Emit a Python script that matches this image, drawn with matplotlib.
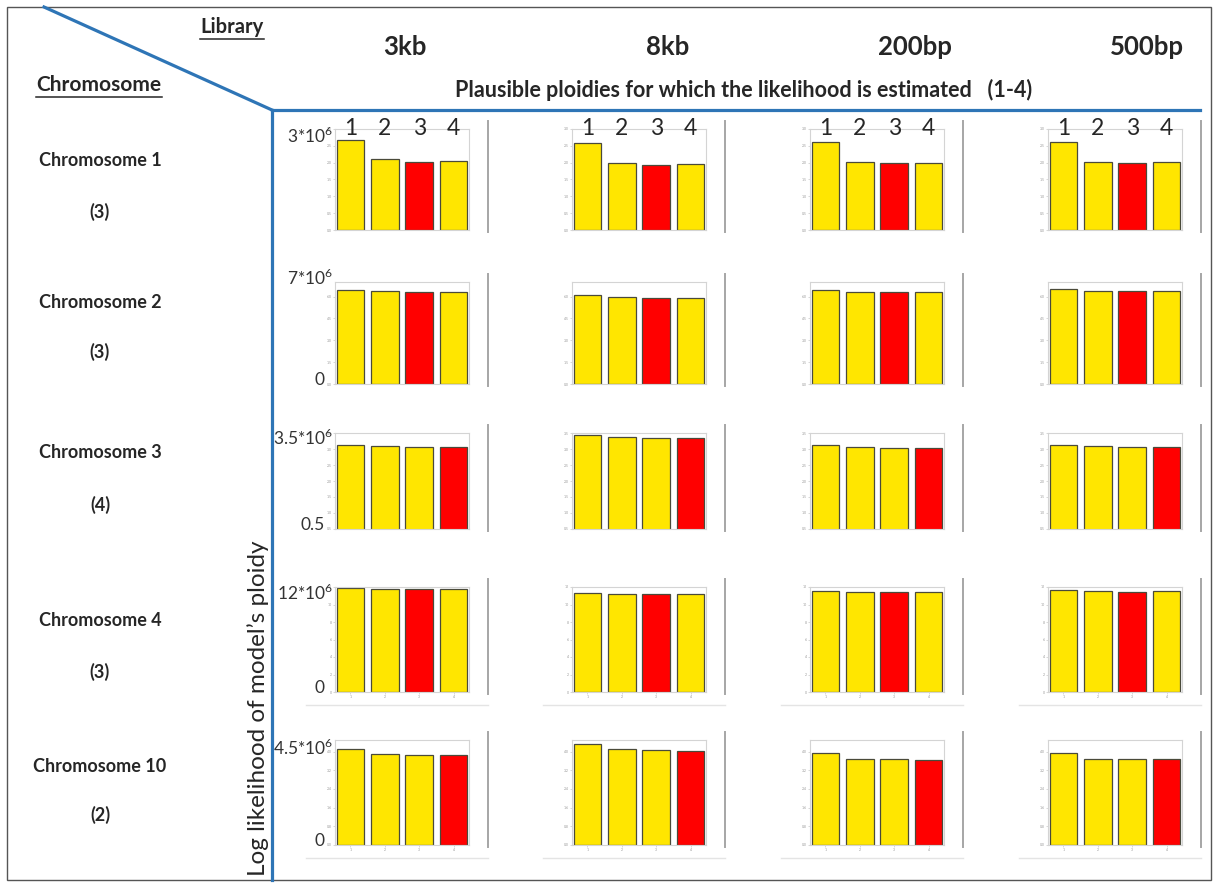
import matplotlib
matplotlib.use("Agg")
import matplotlib.pyplot as plt
from matplotlib.lines import Line2D
from matplotlib.patches import Rectangle
from matplotlib.ticker import MaxNLocator

plt.rcParams['font.family'] = ['Lato', 'DejaVu Sans']
plt.rcParams['mathtext.fontset'] = 'custom'
plt.rcParams['mathtext.rm'] = 'Lato'

# libraries (columns) and chromosomes (rows)
libraries = ["3kb", "8kb", "200bp", "500bp"]
chromosomes = ["Chromosome 1", "Chromosome 2", "Chromosome 3", "Chromosome 4", "Chromosome 10"]
best_ploidy = ["(3)", "(3)", "(4)", "(3)", "(2)"]
ploidies = [1, 2, 3, 4]

# log likelihood (x10^6) per library, ploidy 1..4
loglik_chr1 = [[2.67, 2.10, 2.03, 2.04], [2.58, 1.98, 1.92, 1.95], [2.60, 2.01, 1.98, 1.99], [2.61, 2.01, 1.98, 2.01]]
loglik_chr2 = [[6.44, 6.37, 6.30, 6.31], [6.09, 5.95, 5.88, 5.89], [6.44, 6.31, 6.29, 6.30], [6.51, 6.38, 6.36, 6.37]]
loglik_chr3 = [[3.14, 3.08, 3.07, 3.05], [3.43, 3.37, 3.35, 3.34], [3.11, 3.05, 3.04, 3.02], [3.14, 3.08, 3.07, 3.05]]
loglik_chr4 = [[11.88, 11.78, 11.72, 11.76], [11.30, 11.22, 11.16, 11.20], [11.52, 11.42, 11.38, 11.41], [11.64, 11.52, 11.45, 11.50]]
loglik_chr10 = [[4.10, 3.88, 3.87, 3.86], [4.32, 4.10, 4.06, 4.05], [3.96, 3.70, 3.69, 3.66], [3.96, 3.70, 3.69, 3.68]]
loglik = [loglik_chr1, loglik_chr2, loglik_chr3, loglik_chr4, loglik_chr10]

# chosen ploidy per chromosome (red bar)
chosen = [3, 3, 4, 3, 4]

# y range per chromosome (x10^6) and its printed labels
y_ranges = [(0, 3), (0, 7), (0.5, 3.5), (0, 12), (0, 4.5)]
top_labels = [r"3*10$^{6}$", r"7*10$^{6}$", r"3.5*10$^{6}$", r"12*10$^{6}$", r"4.5*10$^{6}$"]
bottom_labels = [None, "0", "0.5", "0", "0"]

W, H = 1218, 884
fig = plt.figure(figsize=(W / 100, H / 100), dpi=100)

def fx(x):
    return x / W

def fy(y):
    return 1 - y / H

BLUE = "#2E75B6"
TXT = "#262626"
YELLOW = "#FFE600"
RED = "#FF0000"

# outer frame
fig.add_artist(Rectangle((fx(7), fy(880)), fx(1211) - fx(7), fy(7) - fy(880),
                         transform=fig.transFigure, fill=False, ec="#555555", lw=1.0))

# header lines
fig.add_artist(Line2D([fx(44), fx(272)], [fy(7), fy(110)], color=BLUE, lw=2.3))
fig.add_artist(Line2D([fx(272), fx(1200)], [fy(110), fy(110)], color=BLUE, lw=2.3))
fig.add_artist(Line2D([fx(272), fx(272)], [fy(110), fy(880)], color=BLUE, lw=2.3))

lib_txt = fig.text(fx(232), fy(27), "Library", ha="center", va="center",
                   fontsize=14.5, fontweight="bold", color=TXT)
chr_txt = fig.text(fx(99), fy(85), "Chromosome", ha="center", va="center",
                   fontsize=15, fontweight="bold", color=TXT)

header_x = [405, 668, 915, 1147]
for x, lib in zip(header_x, libraries):
    fig.text(fx(x), fy(47), lib, ha="center", va="center", fontsize=18.5,
             fontweight="bold", color=TXT)

fig.text(fx(744), fy(90), "Plausible ploidies for which the likelihood is estimated   (1-4)",
         ha="center", va="center", fontsize=15.5, fontweight="bold", color=TXT)

fig.text(fx(258), fy(708), "Log likelihood of model\u2019s ploidy", rotation=90,
         ha="center", va="center", fontsize=17.5, color=TXT)

row_name_y = [160, 303, 453, 621, 767]
row_best_y = [212, 352, 505, 672, 815]
for name, best, y1, y2 in zip(chromosomes, best_ploidy, row_name_y, row_best_y):
    fig.text(fx(100), fy(y1), name, ha="center", va="center", fontsize=13,
             fontweight="bold", color=TXT)
    fig.text(fx(100), fy(y2), best, ha="center", va="center", fontsize=13,
             fontweight="bold", color=TXT)

# panel grid
col_left = [335, 572, 810, 1048]
panel_w = 134
row_top = [129, 282, 433, 587, 740]
row_bot = [230, 384, 529, 692, 845]
top_label_y = [0.93, 1.04, 0.95, 0.94, 0.92]

for r in range(len(chromosomes)):
    lo, hi = y_ranges[r]
    for c in range(len(libraries)):
        ax = fig.add_axes([fx(col_left[c]), fy(row_bot[r]), panel_w / W,
                           (row_bot[r] - row_top[r]) / H])
        vals = loglik[r][c]
        colors = [RED if p == chosen[r] else YELLOW for p in ploidies]
        ax.bar(ploidies, vals, width=0.8, color=colors, edgecolor="#4a4a3a", linewidth=0.9)
        ax.set_xlim(0.55, 4.45)
        ax.set_ylim(lo, hi)
        for s in ax.spines.values():
            s.set_color("#d4d4d4")
            s.set_linewidth(0.8)
        ax.yaxis.set_major_locator(MaxNLocator(6))
        ax.tick_params(axis="y", labelsize=2.5, labelcolor="#9a9a9a", length=1.5,
                       width=0.4, color="#bbbbbb", pad=1)
        ax.set_xticks(ploidies)
        if r >= 3:
            ax.tick_params(axis="x", labelsize=2.5, labelcolor="#9a9a9a", length=1.5,
                           width=0.4, color="#bbbbbb", pad=1)
        else:
            ax.tick_params(axis="x", labelbottom=False, length=0)

        # screenshot edge to the right of each panel
        ax.plot([1.14, 1.14], [-0.02, 1.08], transform=ax.transAxes, clip_on=False,
                color="#a6a6a6", lw=1.4)
        if r >= 3:
            ax.plot([-0.22, 1.14], [-0.12, -0.12], transform=ax.transAxes, clip_on=False,
                    color="#e4e4e4", lw=1.0)

        if c == 0:
            ax.text(-0.01, top_label_y[r], top_labels[r], transform=ax.transAxes,
                    ha="right", va="center", fontsize=12.5, color="#333333")
            if bottom_labels[r] is not None:
                ax.text(-0.08, 0.04, bottom_labels[r], transform=ax.transAxes,
                        ha="right", va="center", fontsize=12.5, color="#333333")
        if r == 0:
            for p in ploidies:
                ax.text(p, 1.0, str(p), transform=ax.get_xaxis_transform(),
                        ha="center", va="center", fontsize=16.5, color=TXT)

# underline the two corner headings
fig.canvas.draw()
renderer = fig.canvas.get_renderer()
for t in (lib_txt, chr_txt):
    bb = t.get_window_extent(renderer)
    y0 = bb.y0 - 2
    fig.add_artist(Line2D([bb.x0 / W, bb.x1 / W], [y0 / H, y0 / H], color=TXT, lw=1.1))

fig.savefig("out.png", dpi=100)
